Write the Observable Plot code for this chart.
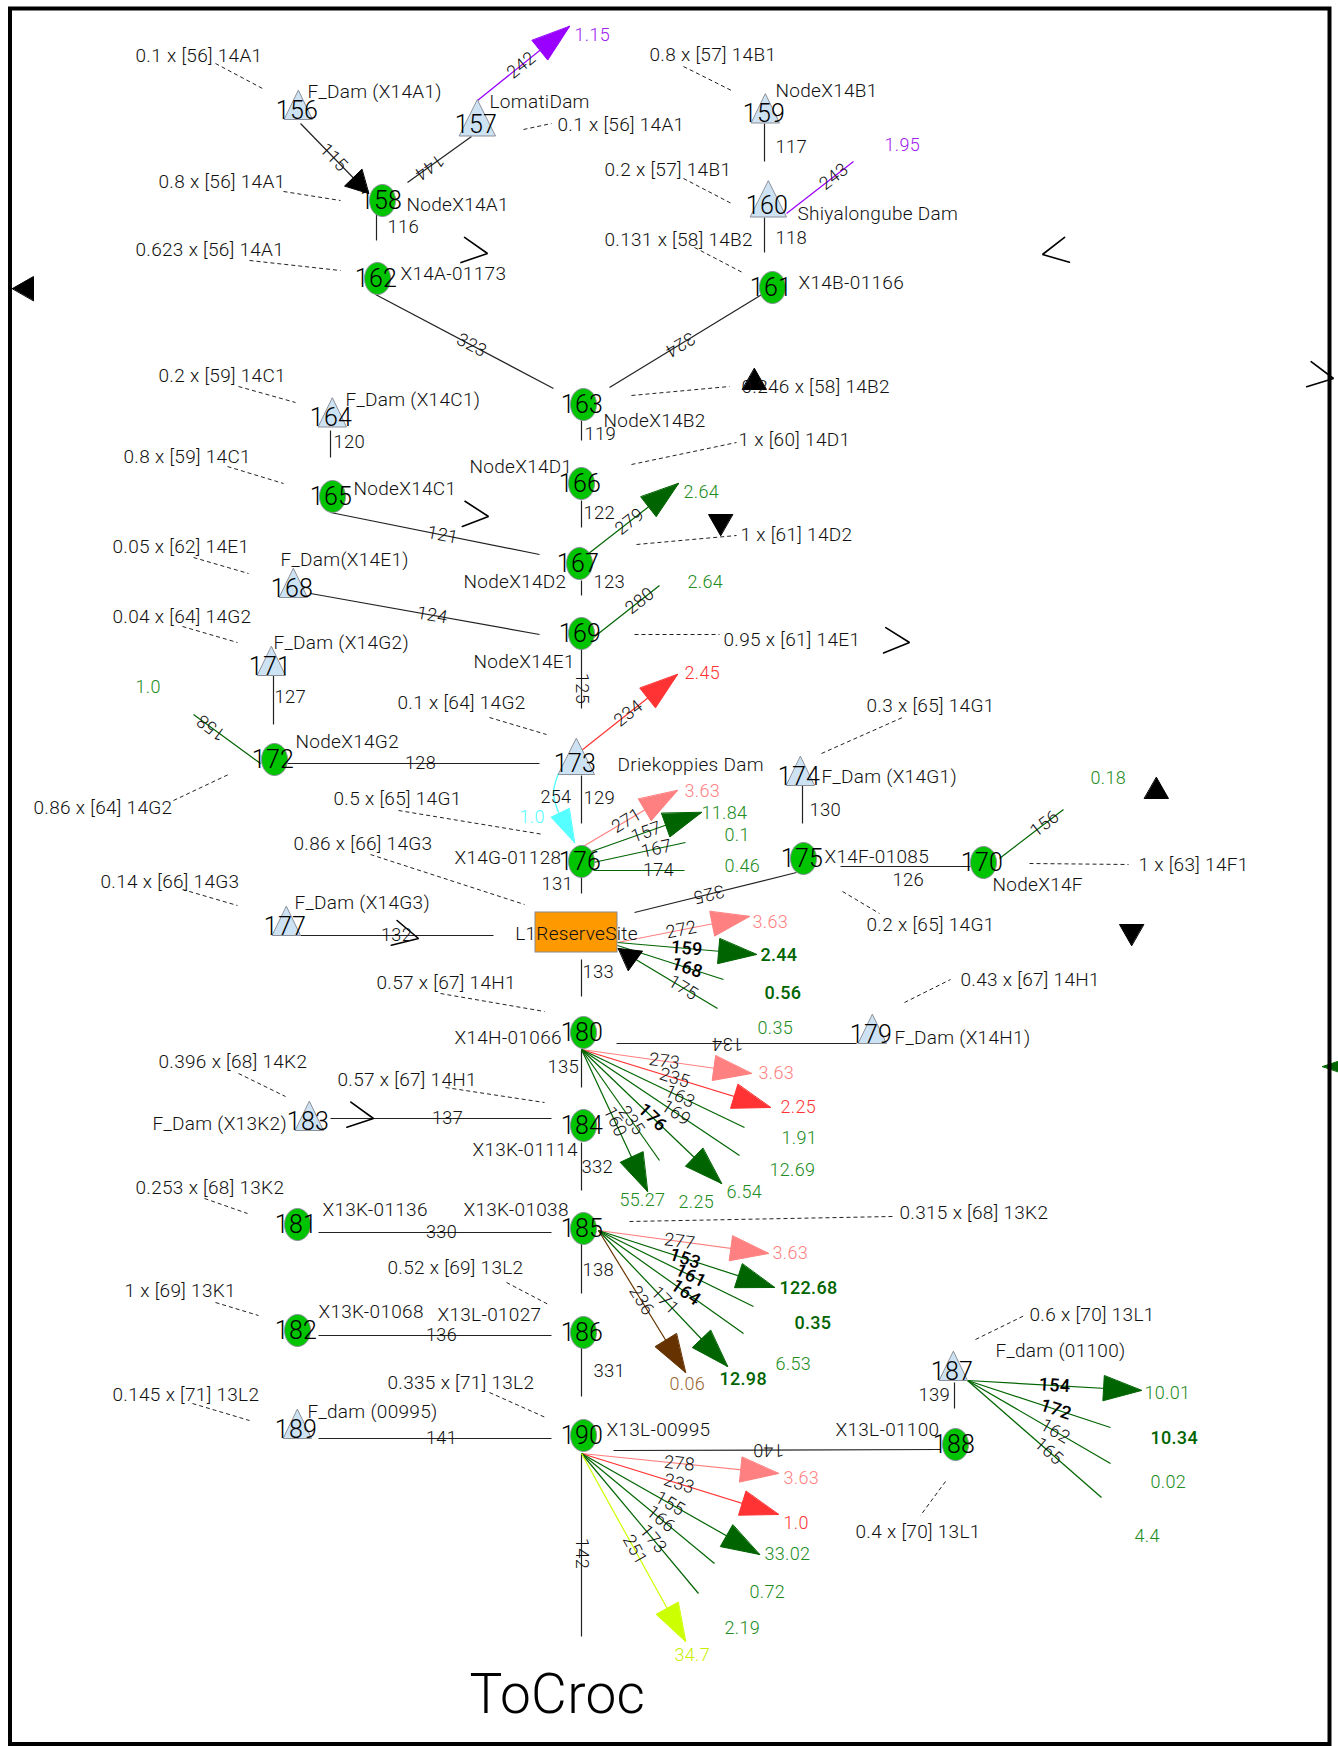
<!DOCTYPE html>
<html><head><meta charset="utf-8">
<script src="https://cdn.jsdelivr.net/npm/d3@7"></script>
<script src="https://cdn.jsdelivr.net/npm/@observablehq/plot@0.6"></script>
<style>body{margin:0;background:#fff}svg{display:block}</style>
</head><body>
<script>
const W = 1338, H = 1746;

// ---- nodes: id, kind, x, y (diagram coordinates)
const nodes = [
  [156,"dam",298,104.5],[157,"bigdam",477,117.5],[158,"node",382,200],
  [159,"dam",765,108],[160,"bigdam",768,198.5],[161,"node",772,287],
  [162,"node",377,278],[163,"node",583,404],[164,"dam",332,412],
  [165,"node",332,496],[166,"node",581,483],[167,"node",579,563],
  [168,"dam",293,582.5],[169,"node",581,633],[170,"node",983,862],
  [171,"dam",271,660.5],[172,"node",274,759],[173,"bigdam",576,756],
  [174,"dam",800,770.5],[175,"node",803,858],[176,"node",581,861],
  [177,"dam",286,920.5],[179,"dam",872,1028.5],[180,"node",583,1032],
  [181,"node",297,1224],[182,"node",297,1330],[183,"dam",309,1115.5],
  [184,"node",583,1125],[185,"node",583,1228],[186,"node",583,1332],
  [187,"dam",953,1365.5],[188,"node",955,1444],[189,"dam",297,1423.5],
  [190,"node",583,1435]
];
const reserveSites = [["L1ReserveSite",535,912,617,952]];

// ---- node names: text, x, baseline y
const nodeNames = [
  ["F_Dam (X14A1)",307,97],["LomatiDam",489,107],["NodeX14A1",406,210],["X14A-01173",400,279],
  ["NodeX14B1",775,96],["Shiyalongube Dam",797,219],["X14B-01166",798,288],
  ["F_Dam (X14C1)",345,405],["NodeX14B2",603,426],["NodeX14D1",469,472],["NodeX14C1",353,494],
  ["NodeX14D2",463,587],["F_Dam(X14E1)",280,565],["NodeX14E1",473,667],["F_Dam (X14G2)",273,648],
  ["NodeX14G2",295,747],["Driekoppies Dam",617,770],["F_Dam (X14G1)",821,782],["X14G-01128",454,863],
  ["X14F-01085",824,862],["NodeX14F",992,890],["F_Dam (X14G3)",294,908],["X14H-01066",454,1043],
  ["F_Dam (X14H1)",894,1043],["F_Dam (X13K2)",152,1129],["X13K-01114",472,1155],["X13K-01136",322,1215],
  ["X13K-01038",463,1215],["X13K-01068",318,1317],["X13L-01027",437,1320],["F_dam (01100)",995,1356],
  ["F_dam (00995)",307,1417],["X13L-00995",606,1435],["X13L-01100",835,1435]
];

// ---- demand notes: text, x, baseline y, leader x1,y1,x2,y2
const notes = [
  ["0.1 x [56] 14A1",135,61,215,63,262,88],
  ["0.1 x [56] 14A1",557,130,523,129,551,123],
  ["0.8 x [57] 14B1",649,60,683,66,731,90],
  ["0.8 x [56] 14A1",158,187,283,191,340,200],
  ["0.2 x [57] 14B1",604,175,683,178,731,203],
  ["0.623 x [56] 14A1",135,255,249,260,340,270],
  ["0.131 x [58] 14B2",604,245,694,247,742,272],
  ["0.2 x [59] 14C1",158,381,238,386,295,402],
  ["0.246 x [58] 14B2",741,392,631,395,729,386],
  ["1 x [60] 14D1",738,445,631,464,736,442],
  ["0.8 x [59] 14C1",123,462,227,466,283,483],
  ["1 x [61] 14D2",740,540,636,544,736,535],
  ["0.05 x [62] 14E1",112,552,193,557,248,573],
  ["0.04 x [64] 14G2",112,622,182,626,237,642],
  ["0.95 x [61] 14E1",723,645,634,634,719,634],
  ["0.1 x [64] 14G2",397,708,489,717,546,734],
  ["0.3 x [65] 14G1",866,711,821,753,902,717],
  ["0.86 x [64] 14G2",33,813,173,800,228,774],
  ["0.5 x [65] 14G1",333,804,398,810,543,834],
  ["0.86 x [66] 14G3",293,849,370,854,524,904],
  ["0.14 x [66] 14G3",100,887,182,889,237,905],
  ["1 x [63] 14F1",1138,870,1029,863,1128,864],
  ["0.2 x [65] 14G1",866,930,842,891,879,913],
  ["0.57 x [67] 14H1",376,988,440,993,544,1011],
  ["0.43 x [67] 14H1",960,985,904,1002,950,979],
  ["0.396 x [68] 14K2",158,1067,238,1073,285,1096],
  ["0.57 x [67] 14H1",337,1085,445,1087,544,1102],
  ["0.253 x [68] 13K2",135,1193,204,1198,247,1213],
  ["0.315 x [68] 13K2",899,1218,629,1221,892,1216],
  ["0.52 x [69] 13L2",387,1273,506,1282,548,1304],
  ["1 x [69] 13K1",124,1296,215,1302,258,1315],
  ["0.6 x [70] 13L1",1029,1320,975,1339,1024,1315],
  ["0.335 x [71] 13L2",387,1388,489,1392,545,1417],
  ["0.145 x [71] 13L2",112,1400,192,1403,249,1420],
  ["0.4 x [70] 13L1",855,1537,945,1481,920,1515]
];

// ---- river links: label, x1,y1,x2,y2, label x,y, placement, arrow
const links = [
  ["115",300,123,368,193,333,157,"along",1],
  ["144",471,136,407,182,430,168,"along",0],
  ["116",376,213,376,240,387,232,"side",0],
  ["323",375,294,553,388,471,345,"along",0],
  ["324",763,293,609,387,679,343,"along",0],
  ["117",764,123,764,161,775,152,"side",0],
  ["118",764,217,764,252,775,243,"side",0],
  ["119",581,420,581,440,584,439,"side",0],
  ["120",330,430,330,457,333,447,"side",0],
  ["121",330,512,539,554,442,535,"along",0],
  ["122",581,500,581,527,583,518,"side",0],
  ["123",581,580,581,595,593,587,"side",0],
  ["124",310,593,539,634,432,613,"along",0],
  ["125",581,648,581,708,581,688,"along",0],
  ["127",273,675,273,724,274,702,"side",0],
  ["128",287,763,539,763,420,763,"along",0],
  ["129",581,775,581,823,583,803,"side",0],
  ["130",802,785,802,823,809,815,"side",0],
  ["131",581,876,581,893,541,889,"side",0],
  ["126",840,866,970,866,892,885,"side",0],
  ["325",796,872,634,912,708,892,"along",0],
  ["132",300,935,493,935,396,935,"along",0],
  ["133",581,959,581,996,582,977,"side",0],
  ["134",856,1043,616,1043,727,1044,"along",0],
  ["135",581,1050,581,1087,547,1072,"side",0],
  ["137",330,1118,551,1118,447,1118,"along",0],
  ["332",581,1142,581,1190,581,1172,"side",0],
  ["330",318,1232,551,1232,441,1234,"along",0],
  ["138",581,1243,581,1293,582,1275,"side",0],
  ["136",318,1335,551,1335,441,1336,"along",0],
  ["331",581,1347,581,1396,593,1376,"side",0],
  ["141",318,1438,551,1438,441,1439,"along",0],
  ["140",940,1449,613,1450,768,1450,"along",0],
  ["139",954,1382,954,1408,918,1400,"side",0],
  ["142",581,1453,581,1636,581,1553,"along",0]
];

// ---- flows: label, kind, x1,y1,x2,y2, arrow, value, value x,y, label x,y, labelBold, valueBold
const flows = [
  ["242","transfer",477,100,569,26,1,"1.15",574,40,521,65,0,0],
  ["243","transfer",786,213,853,161,0,"1.95",884,150,834,177,0,0],
  ["279","irrigation",583,557,678,483,1,"2.64",683,497,629,521,0,0],
  ["280","irrigation",593,637,659,585,0,"2.64",687,587,639,600,0,0],
  ["234","demand",581,750,677,674,1,"2.45",684,678,628,713,0,0],
  ["158","irrigation",260,763,193,714,0,"1.0",135,692,210,728,0,0],
  ["156","irrigation",999,858,1063,809,0,"0.18",1090,783,1044,823,0,0],
  ["271","ewr",581,847,677,790,1,"3.63",684,796,626,820,0,0],
  ["157","irrigation",591,851,701,812,1,"11.84",701,818,646,832,0,0],
  ["167","irrigation",593,862,685,842,0,"0.1",724,840,656,848,0,0],
  ["174","irrigation",593,870,684,870,0,"0.46",724,871,658,876,0,0],
  ["272","ewr",617,942,749,916,1,"3.63",752,927,681,930,0,0],
  ["159","irrigation",617,942,756,954,1,"2.44",760,960,686,950,1,1],
  ["168","irrigation",617,945,723,979,0,"0.56",764,998,686,969,1,1],
  ["175","irrigation",617,948,717,1008,0,"0.35",757,1033,681,990,0,0],
  ["273","ewr",581,1049,751,1073,1,"3.63",758,1078,664,1060,0,0],
  ["235","demand",581,1049,770,1107,1,"2.25",780,1112,674,1078,0,0],
  ["163","irrigation",581,1049,744,1127,0,"1.91",781,1143,679,1097,0,0],
  ["169","irrigation",581,1049,739,1155,0,"12.69",769,1175,675,1113,0,0],
  ["176","irrigation",581,1049,721,1183,1,"6.54",726,1197,651,1118,1,0],
  ["235","irrigation",581,1049,659,1160,0,"2.25",678,1207,631,1120,0,0],
  ["160","irrigation",581,1049,647,1191,1,"55.27",619,1205,613,1122,0,0],
  ["277","ewr",598,1230,768,1253,1,"3.63",772,1258,679,1242,0,0],
  ["153","irrigation",598,1230,774,1287,1,"122.68",779,1293,684,1260,1,1],
  ["161","irrigation",598,1230,753,1306,0,"0.35",794,1328,689,1278,1,1],
  ["164","irrigation",598,1230,743,1333,0,"6.53",775,1369,683,1295,1,0],
  ["171","irrigation",598,1230,727,1366,1,"12.98",719,1384,661,1303,0,1],
  ["236","mining",598,1230,685,1372,1,"0.06",669,1389,638,1302,0,0],
  ["154","irrigation",967,1380,1141,1390,1,"10.01",1144,1398,1054,1385,1,0],
  ["172","irrigation",967,1380,1110,1427,0,"10.34",1150,1443,1055,1410,1,1],
  ["162","irrigation",967,1380,1110,1463,0,"0.02",1150,1487,1054,1432,0,0],
  ["165","irrigation",967,1380,1101,1497,0,"4.4",1134,1541,1047,1452,0,0],
  ["278","ewr",581,1453,778,1473,1,"3.63",783,1483,679,1463,0,0],
  ["233","demand",581,1453,778,1514,1,"1.0",783,1528,678,1485,0,0],
  ["155","irrigation",581,1453,759,1554,1,"33.02",764,1559,669,1504,0,0],
  ["166","irrigation",581,1453,714,1563,0,"0.72",749,1597,659,1520,0,0],
  ["173","irrigation",581,1453,698,1593,0,"2.19",724,1633,651,1540,0,0],
  ["251","border",581,1453,685,1641,1,"34.7",674,1660,633,1550,0,0]
];

// ---- curved spill release from Driekoppies Dam: path points, label, value
const spillPath = [[558,773],[553,792],[558,812],[574,842]];
const spillLabels = [["254",540,802,"label"],["1.0",519,822,"value"]];

// ---- loose markers: tip x, tip y, direction (deg), kind
const markers = [
  [12,288,180,"black"],[754,368,-90,"black"],[720,535,90,"black"],
  [1156,777,-90,"black"],[1131,945,90,"black"],[618,948,216,"black"],
  [1322,1066,180,"irrigation"]
];
const chevrons = [
  [487,253,8],[1042,254,169],[488,516,6],[909,642,5],[418,938,13],[373,1118,9],[1333,378,10]
];
const outlet = [["ToCroc",469,1712]];

// ---- styling by category (kept out of the data)
const lineColor = {transfer:"#9900ff", ewr:"#ff8080", demand:"#ff3333", irrigation:"#006400",
                   mining:"#663300", border:"#ccff00", spill:"#55ffff", black:"#000"};
const textColor = {transfer:"#a020f0", ewr:"#ff8080", demand:"#ff3333", irrigation:"#228b22",
                   mining:"#996633", border:"#c8f000", spill:"#55ffff"};

// ---- derived geometry
const deg = (x1,y1,x2,y2) => Math.atan2(y2-y1, x2-x1) * 180 / Math.PI;
function onLine(x1,y1,x2,y2,px,py){
  const dx=x2-x1, dy=y2-y1, t=((px-x1)*dx+(py-y1)*dy)/(dx*dx+dy*dy);
  return [x1+t*dx, y1+t*dy];
}
const polys = [];
let pid = 0;
function arrowHead(tx,ty,a,L,Wd,color){
  const r=a*Math.PI/180, ux=Math.cos(r), uy=Math.sin(r), bx=tx-L*ux, by=ty-L*uy, nx=-uy, ny=ux;
  const id = "a"+(pid++);
  polys.push({id,x:tx,y:ty,c:color},{id,x:bx+nx*Wd/2,y:by+ny*Wd/2,c:color},{id,x:bx-nx*Wd/2,y:by-ny*Wd/2,c:color});
}
flows.filter(f=>f[6]).forEach(f=>arrowHead(f[4],f[5],deg(f[2],f[3],f[4],f[5]),38,25,lineColor[f[1]]));
links.filter(l=>l[8]).forEach(l=>arrowHead(l[3],l[4],deg(l[1],l[2],l[3],l[4]),22,24,"#000"));
{ const n=spillPath.length, p=spillPath[n-1];
  arrowHead(p[0],p[1],64,33,20,lineColor.spill); }
markers.forEach(m=>arrowHead(m[0],m[1],m[2],m[3]==="black"?21:38,m[3]==="black"?24:25,lineColor[m[3]]));

const chevPts = [];
chevrons.forEach((c,i)=>{
  const r=c[2]*Math.PI/180, h=27*Math.PI/180, L=28;
  chevPts.push({id:i,x:c[0]-L*Math.cos(r-h),y:c[1]-L*Math.sin(r-h)},{id:i,x:c[0],y:c[1]},{id:i,x:c[0]-L*Math.cos(r+h),y:c[1]-L*Math.sin(r+h)});
});

const nodePts = [];
nodes.forEach(n=>{
  const [id,kind,x,y]=n;
  if (kind==="node") {
    for (let k=0;k<48;k++){ const t=k/48*2*Math.PI; nodePts.push({id,x:x+13*Math.cos(t),y:y+16*Math.sin(t),c:"#00c400"}); }
  } else {
    const w = kind==="bigdam"?36:28, h = kind==="bigdam"?36:29;
    nodePts.push({id,x,y:y-h/2,c:"#cde2f2"},{id,x:x+w/2,y:y+h/2,c:"#cde2f2"},{id,x:x-w/2,y:y+h/2,c:"#cde2f2"});
  }
});

const alongLabels = [];
links.filter(l=>l[7]==="along").forEach(l=>{
  const [px,py]=onLine(l[1],l[2],l[3],l[4],l[5],l[6]);
  alongLabels.push({t:l[0],x:px,y:py,r:deg(l[1],l[2],l[3],l[4]),b:0});
});
flows.forEach(f=>{
  const [px,py]=onLine(f[2],f[3],f[4],f[5],f[10],f[11]);
  alongLabels.push({t:f[0],x:px,y:py,r:deg(f[2],f[3],f[4],f[5]),b:f[12]});
});
const valueLabels = flows.map(f=>({t:f[7],x:f[8],y:f[9],c:f[13]?"#006400":textColor[f[1]],b:f[13]}));

const font = "Roboto, 'Open Sans', sans-serif";
const LW = 300; // light weight like the reference
const chart = Plot.plot({
  width: W, height: H, margin: 0,
  x: {domain:[0,W], range:[0,W], axis:null},
  y: {domain:[0,H], range:[0,H], axis:null},
  color: {type:"identity"},
  style: {fontFamily: font, background:"#fff", overflow:"hidden", letterSpacing:"0.3px"},
  marks: [
    Plot.link(notes, {x1:d=>d[3], y1:d=>d[4], x2:d=>d[5], y2:d=>d[6], stroke:"#222", strokeWidth:1, strokeDasharray:"4,3"}),
    Plot.link(links, {x1:d=>d[1], y1:d=>d[2], x2:d=>d[3], y2:d=>d[4], stroke:"#222", strokeWidth:1.2}),
    Plot.link(flows, {x1:d=>d[2], y1:d=>d[3], x2:d=>d[4], y2:d=>d[5], stroke:d=>lineColor[d[1]], strokeWidth:1.2}),
    Plot.line(spillPath, {x:d=>d[0], y:d=>d[1], curve:"catmull-rom", stroke:lineColor.spill, strokeWidth:1.4}),
    Plot.line(polys, {x:"x", y:"y", z:"id", fill:"c", stroke:"c", strokeWidth:1, curve:"linear-closed"}),
    Plot.line(nodePts, {x:"x", y:"y", z:"id", fill:"c", stroke:"#8a8f99", strokeWidth:1, curve:"linear-closed"}),
    Plot.rect(reserveSites, {x1:d=>d[1], y1:d=>d[2], x2:d=>d[3], y2:d=>d[4], fill:"#ff9900", stroke:"#888", strokeWidth:1}),
    Plot.line(chevPts, {x:"x", y:"y", z:"id", stroke:"#000", strokeWidth:1.6, fill:"none", strokeLinejoin:"miter"}),
    // node ids
    Plot.text(nodes.filter(d=>d[1]==="node"), {x:d=>d[2], y:d=>d[3], text:d=>String(d[0]), dx:-1.5, fontSize:25, fontWeight:LW, fill:"#000", fontFamily:font, lineAnchor:"middle"}),
    Plot.text(nodes.filter(d=>d[1]==="dam"), {x:d=>d[2], y:d=>d[3], text:d=>String(d[0]), dx:-1.5, dy:13.5, fontSize:25, fontWeight:LW, fill:"#000", fontFamily:font, lineAnchor:"bottom"}),
    Plot.text(nodes.filter(d=>d[1]==="bigdam"), {x:d=>d[2], y:d=>d[3], text:d=>String(d[0]), dx:-1.5, dy:15, fontSize:25, fontWeight:LW, fill:"#000", fontFamily:font, lineAnchor:"bottom"}),
    Plot.text(reserveSites, {x:d=>(d[1]+d[3])/2, y:d=>d[4]-13, text:d=>d[0], fontSize:19, fontWeight:LW, fill:"#111", fontFamily:font, lineAnchor:"bottom"}),
    // names and notes
    Plot.text(nodeNames, {x:d=>d[1], y:d=>d[2], text:d=>d[0], textAnchor:"start", lineAnchor:"bottom", fontSize:19, fontWeight:LW, fill:"#111", fontFamily:font}),
    Plot.text(notes, {x:d=>d[1], y:d=>d[2], text:d=>d[0], textAnchor:"start", lineAnchor:"bottom", fontSize:19, fontWeight:LW, fill:"#111", fontFamily:font}),
    // link labels
    Plot.text(links.filter(l=>l[7]==="side"), {x:d=>d[5], y:d=>d[6], text:d=>d[0], textAnchor:"start", lineAnchor:"bottom", fontSize:18.5, fontWeight:LW, fill:"#111", fontFamily:font}),
    Plot.text(alongLabels.filter(d=>!d.b), {x:"x", y:"y", text:"t", rotate:"r", lineAnchor:"middle", fontSize:18, fontWeight:LW, fill:"#111", fontFamily:font}),
    Plot.text(alongLabels.filter(d=>d.b), {x:"x", y:"y", text:"t", rotate:"r", lineAnchor:"middle", fontSize:18, fill:"#000", fontWeight:"500", fontFamily:font}),
    Plot.text(valueLabels.filter(d=>!d.b), {x:"x", y:"y", text:"t", fill:"c", textAnchor:"start", lineAnchor:"bottom", fontSize:18, fontWeight:LW, fontFamily:font}),
    Plot.text(valueLabels.filter(d=>d.b), {x:"x", y:"y", text:"t", fill:"c", textAnchor:"start", lineAnchor:"bottom", fontSize:18, fontWeight:"500", fontFamily:font}),
    Plot.text(spillLabels, {x:d=>d[1], y:d=>d[2], text:d=>d[0], fill:d=>d[3]==="value"?textColor.spill:"#111", textAnchor:"start", lineAnchor:"bottom", fontSize:18, fontWeight:LW, fontFamily:font}),
    Plot.text(outlet, {x:d=>d[1], y:d=>d[2], text:d=>d[0], textAnchor:"start", lineAnchor:"bottom", fontSize:55, fontWeight:LW, fill:"#000", fontFamily:font}),
    // border
    Plot.frame({stroke:"#000", strokeWidth:4, insetLeft:9.5, insetTop:8, insetRight:9, insetBottom:2.5})
  ]
});
document.body.appendChild(chart);
</script>
</body></html>
